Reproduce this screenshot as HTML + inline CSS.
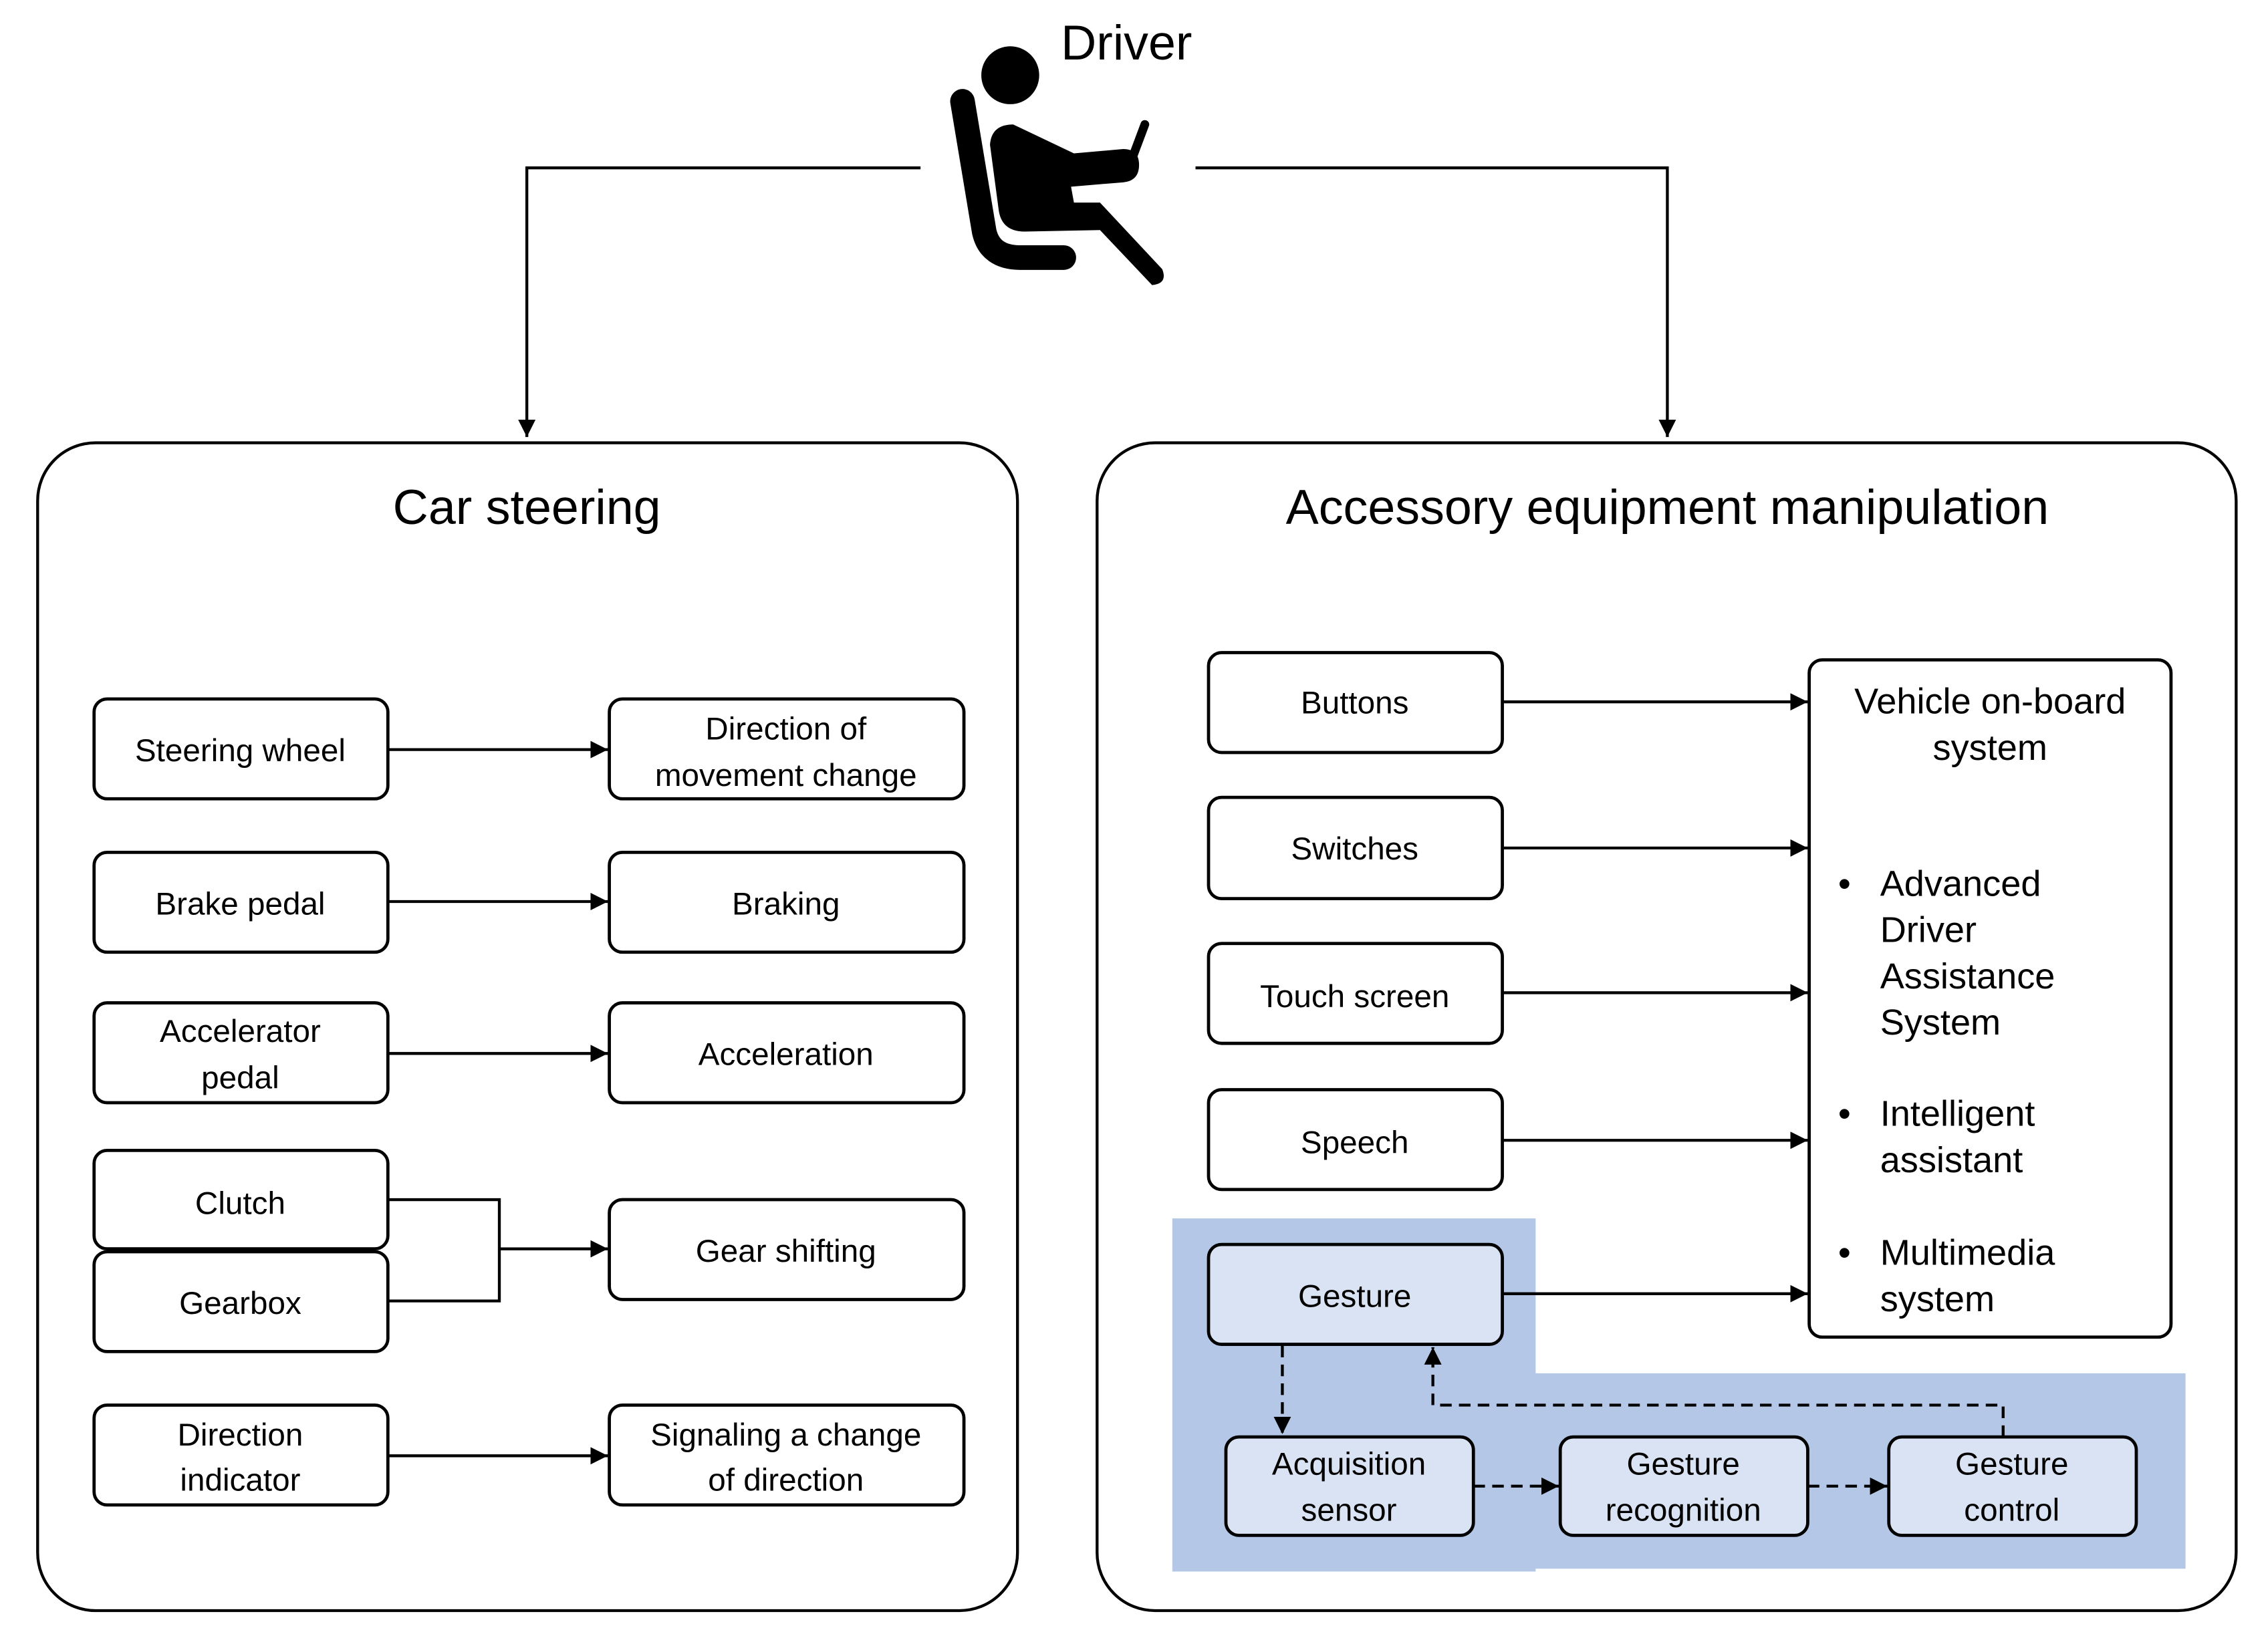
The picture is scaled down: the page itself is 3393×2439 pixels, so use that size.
<!DOCTYPE html>
<html><head><meta charset="utf-8"><style>html,body{margin:0;padding:0;background:#fff}svg{display:block}</style></head>
<body>
<svg width="3393" height="2439" viewBox="0 0 1567 1126.4" preserveAspectRatio="none" xmlns="http://www.w3.org/2000/svg" font-family="Liberation Sans, sans-serif">
<defs>
<marker id="b" viewBox="0 0 10 10" refX="10" refY="5" markerWidth="12" markerHeight="12" orient="auto" markerUnits="userSpaceOnUse"><path d="M0,0L10,5L0,10z" fill="#000"/></marker>
</defs>
<path d="M810,842H1061V949H1510V1084H1061V1086H810Z" fill="#b4c7e7"/>
<text x="733" y="41" font-size="34">Driver</text>
<circle cx="698" cy="52" r="20"/>
<path d="M665,70 L680,160 Q684,178 705,178 L735,178" fill="none" stroke="#000" stroke-width="17" stroke-linecap="round"/>
<path d="M684,100 Q685,86 700,86 L742,106 L776,103 Q787,103 787,114 Q787,125 776,126 L740,129 L742,140 L760,140 L803,186 Q807,196 796,197 L760,159 L708,160 Q692,160 690,145 Z" fill="#000"/>
<line x1="791" y1="86" x2="779" y2="118" stroke="#000" stroke-width="6" stroke-linecap="round"/>
<g fill="none" stroke="#000" stroke-width="2">
<path d="M636,116H364V302" marker-end="url(#b)"/>
<path d="M826,116H1152V302" marker-end="url(#b)"/>
<rect x="26" y="306" width="677" height="807" rx="40"/>
<rect x="758" y="306" width="787" height="807" rx="40"/>
</g>
<text x="364" y="362" font-size="34" text-anchor="middle">Car steering</text>
<text x="1152" y="362" font-size="34" text-anchor="middle">Accessory equipment manipulation</text>
<g fill="#fff" stroke="#000" stroke-width="2.2">
<rect x="65" y="483" width="203" height="69" rx="9"/>
<rect x="65" y="589" width="203" height="69" rx="9"/>
<rect x="65" y="693" width="203" height="69" rx="9"/>
<rect x="65" y="795" width="203" height="68" rx="9"/>
<rect x="65" y="865" width="203" height="69" rx="9"/>
<rect x="65" y="971" width="203" height="69" rx="9"/>
<rect x="421" y="483" width="245" height="69" rx="9"/>
<rect x="421" y="589" width="245" height="69" rx="9"/>
<rect x="421" y="693" width="245" height="69" rx="9"/>
<rect x="421" y="829" width="245" height="69" rx="9"/>
<rect x="421" y="971" width="245" height="69" rx="9"/>
<rect x="835" y="451" width="203" height="69" rx="9"/>
<rect x="835" y="551" width="203" height="70" rx="9"/>
<rect x="835" y="652" width="203" height="69" rx="9"/>
<rect x="835" y="753" width="203" height="69" rx="9"/>
<rect x="1250" y="456" width="250" height="468" rx="9"/>
<rect x="835" y="860" width="203" height="69" rx="9" fill="#dae3f3"/>
<rect x="847" y="993" width="171" height="68" rx="9" fill="#dae3f3"/>
<rect x="1078" y="993" width="171" height="68" rx="9" fill="#dae3f3"/>
<rect x="1305" y="993" width="171" height="68" rx="9" fill="#dae3f3"/>
</g>
<g fill="none" stroke="#000" stroke-width="2" marker-end="url(#b)">
<path d="M268,518H420"/><path d="M268,623H420"/><path d="M268,728H420"/><path d="M268,1006H420"/>
<path d="M345,863H420"/>
<path d="M1038,485H1249"/><path d="M1038,586H1249"/><path d="M1038,686H1249"/><path d="M1038,788H1249"/><path d="M1038,894H1249"/>
</g>
<path d="M268,829H345V899H268" fill="none" stroke="#000" stroke-width="2"/>
<g fill="none" stroke="#000" stroke-width="2" stroke-dasharray="8,5" marker-end="url(#b)">
<path d="M886,930V991"/>
<path d="M1384,993V971H990V931"/>
<path d="M1018,1027H1077"/>
<path d="M1249,1027H1304"/>
</g>
<g font-size="22" text-anchor="middle">
<text x="166" y="526">Steering wheel</text>
<text x="166" y="632">Brake pedal</text>
<text x="166" y="720">Accelerator</text><text x="166" y="752">pedal</text>
<text x="166" y="839">Clutch</text>
<text x="166" y="908">Gearbox</text>
<text x="166" y="999">Direction</text><text x="166" y="1030">indicator</text>
<text x="543" y="511">Direction of</text><text x="543" y="543">movement change</text>
<text x="543" y="632">Braking</text>
<text x="543" y="736">Acceleration</text>
<text x="543" y="872">Gear shifting</text>
<text x="543" y="999">Signaling a change</text><text x="543" y="1030">of direction</text>
<text x="936" y="493">Buttons</text>
<text x="936" y="594">Switches</text>
<text x="936" y="696">Touch screen</text>
<text x="936" y="797">Speech</text>
<text x="936" y="903">Gesture</text>
<text x="932" y="1019">Acquisition</text><text x="932" y="1051">sensor</text>
<text x="1163" y="1019">Gesture</text><text x="1163" y="1051">recognition</text>
<text x="1390" y="1019">Gesture</text><text x="1390" y="1051">control</text>
</g>
<g font-size="25">
<text x="1375" y="493" text-anchor="middle">Vehicle on-board</text>
<text x="1375" y="525" text-anchor="middle">system</text>
<text x="1270" y="619">•</text><text x="1299" y="619">Advanced</text>
<text x="1299" y="651">Driver</text><text x="1299" y="683">Assistance</text><text x="1299" y="715">System</text>
<text x="1270" y="778">•</text><text x="1299" y="778">Intelligent</text><text x="1299" y="810">assistant</text>
<text x="1270" y="874">•</text><text x="1299" y="874">Multimedia</text><text x="1299" y="906">system</text>
</g>
</svg>
</body></html>
